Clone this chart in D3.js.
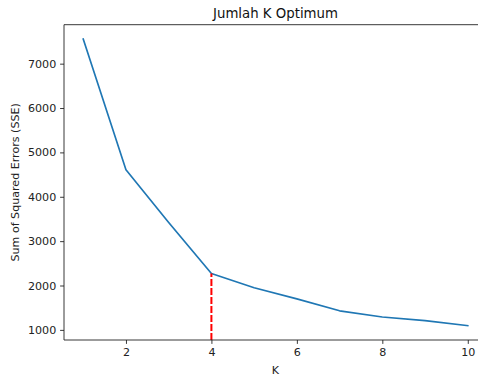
<!DOCTYPE html>
<html>
<head>
<meta charset="utf-8">
<script src="https://cdn.jsdelivr.net/npm/d3@7"></script>
<style>
body { margin: 0; background: #fff; }
svg { display: block; font-family: "DejaVu Sans", sans-serif; }
</style>
</head>
<body>
<svg id="chart" width="478" height="377"></svg>
<script>
const kValues = [1, 2, 3, 4, 5, 6, 7, 8, 9, 10];
const sseValues = [7555, 4610, 3420, 2270, 1950, 1700, 1430, 1290, 1210, 1095];
const xTicks = [2, 4, 6, 8, 10];
const yTicks = [1000, 2000, 3000, 4000, 5000, 6000, 7000];
const optimumK = 4;
const titleText = "Jumlah K Optimum";
const xLabelText = "K";
const yLabelText = "Sum of Squared Errors (SSE)";

const svg = d3.select("#chart");
const plotLeft = 64, plotRight = 487, plotTop = 24.7, plotBottom = 340;

const xMin = d3.min(kValues), xMax = d3.max(kValues);
const xPad = (xMax - xMin) * 0.05;
const yMin = d3.min(sseValues), yMax = d3.max(sseValues);
const yPad = (yMax - yMin) * 0.05;

const x = d3.scaleLinear().domain([xMin - xPad, xMax + xPad]).range([plotLeft, plotRight]);
const y = d3.scaleLinear().domain([yMin - yPad, yMax + yPad]).range([plotBottom, plotTop]);

const tickFont = "11.1px";

// x axis
const xAxis = d3.axisBottom(x).tickValues(xTicks).tickFormat(d3.format("d")).tickSizeOuter(0).tickSize(3.9).tickPadding(3.9);
const gx = svg.append("g").attr("transform", `translate(0,${plotBottom})`).call(xAxis);
gx.select(".domain").remove();
gx.selectAll("text").attr("font-size", tickFont).attr("font-family", "DejaVu Sans").attr("fill", "#222");
gx.selectAll("line").attr("stroke", "#222").attr("stroke-width", 0.9);

// y axis
const yAxis = d3.axisLeft(y).tickValues(yTicks).tickFormat(d3.format("d")).tickSizeOuter(0).tickSize(3.9).tickPadding(3.9);
const gy = svg.append("g").attr("transform", `translate(${plotLeft},0)`).call(yAxis);
gy.select(".domain").remove();
gy.selectAll("text").attr("font-size", tickFont).attr("font-family", "DejaVu Sans").attr("fill", "#222");
gy.selectAll("line").attr("stroke", "#222").attr("stroke-width", 0.9);

// line
const line = d3.line().x((d, i) => x(kValues[i])).y(d => y(d));
svg.append("path")
  .datum(sseValues)
  .attr("d", line)
  .attr("fill", "none")
  .attr("stroke", "#1f77b4")
  .attr("stroke-width", 1.67)
  .attr("stroke-linejoin", "round")
  .attr("stroke-linecap", "square");

// red dashed vertical line at optimum
const optVal = sseValues[kValues.indexOf(optimumK)];
svg.append("line")
  .attr("x1", x(optimumK)).attr("x2", x(optimumK))
  .attr("y1", y(y.domain()[0])).attr("y2", y(optVal))
  .attr("stroke", "red")
  .attr("stroke-width", 2)
  .attr("stroke-dasharray", "7,2");

// spines (right spine is outside the picture)
const spine = svg.append("g").attr("stroke", "#222").attr("stroke-width", 0.9).attr("fill", "none");
spine.append("line").attr("x1", plotLeft).attr("x2", plotLeft).attr("y1", plotTop).attr("y2", plotBottom);
spine.append("line").attr("x1", plotLeft).attr("x2", plotRight).attr("y1", plotBottom).attr("y2", plotBottom);
spine.append("line").attr("x1", plotLeft).attr("x2", plotRight).attr("y1", plotTop).attr("y2", plotTop);
spine.append("line").attr("x1", plotRight).attr("x2", plotRight).attr("y1", plotTop).attr("y2", plotBottom);

// title
svg.append("text")
  .attr("x", (plotLeft + plotRight) / 2).attr("y", 18)
  .attr("text-anchor", "middle")
  .attr("font-size", "13.3px")
  .attr("fill", "#111")
  .text(titleText);

// x label
svg.append("text")
  .attr("x", (plotLeft + plotRight) / 2).attr("y", 374)
  .attr("text-anchor", "middle")
  .attr("font-size", "11.1px")
  .attr("fill", "#222")
  .text(xLabelText);

// y label
svg.append("text")
  .attr("transform", `translate(19,${(plotTop + plotBottom) / 2}) rotate(-90)`)
  .attr("text-anchor", "middle")
  .attr("font-size", "11.1px")
  .attr("fill", "#222")
  .text(yLabelText);
</script>
</body>
</html>
